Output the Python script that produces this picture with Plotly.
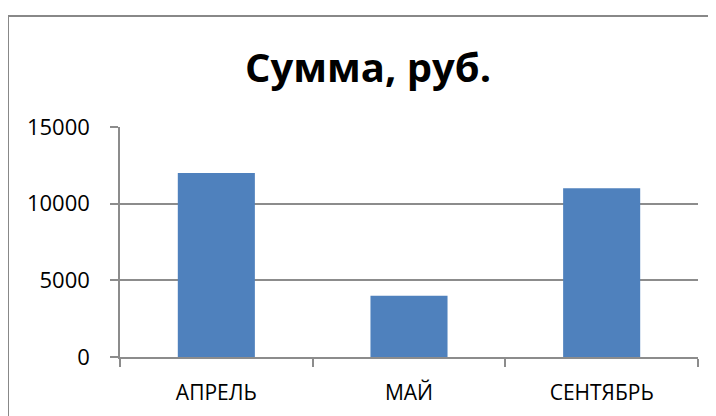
import plotly.graph_objects as go

categories = ["АПРЕЛЬ", "МАЙ", "СЕНТЯБРЬ"]
values = [12000, 4000, 11000]
y_ticks = [0, 5000, 10000, 15000]
y_tick_labels = ["0", "5000", "10000", "15000"]
title_text = "Сумма, руб."

# page body has an 8px margin, so figure coords = screen coords - 8
OFF = 8
W, H = 716, 416
L, T = 120 - OFF, 127 - OFF
R = W - (698 - OFF)
B = H - (357 - OFF)
pw, ph = W - L - R, H - T - B

def px_x(x):
    return (x - OFF - L) / pw

def px_y(y):
    return (H - B - (y - OFF)) / ph

fig = go.Figure(go.Bar(x=categories, y=values, marker=dict(color="#4F81BD", line=dict(width=0))))

grid = "#8c8c8c"
fig.update_layout(
    width=W, height=H,
    margin=dict(l=L, r=R, t=T, b=B),
    paper_bgcolor="white", plot_bgcolor="white",
    bargap=0.6,
    showlegend=False,
    font=dict(family="Open Sans", color="black"),
    title=dict(text="<b>" + title_text + "</b>", x=(368 - OFF) / W, xanchor="center", xref="container",
               y=1 - (68 - OFF) / H, yanchor="middle", yref="container",
               font=dict(size=40, family="Open Sans", color="black")),
    xaxis=dict(type="category", tickson="boundaries", ticks="outside", ticklen=8, tickwidth=1.5,
               tickcolor=grid, showline=True, linecolor=grid, linewidth=1.5, showgrid=False,
               tickfont=dict(size=21), ticklabelstandoff=16),
    yaxis=dict(range=[0, 15000], tickvals=y_ticks, ticktext=y_tick_labels, ticks="outside",
               ticklen=8, tickwidth=1.5,
               tickcolor=grid, showline=True, linecolor=grid, linewidth=1.5,
               showgrid=True, gridcolor=grid, gridwidth=1.5, zeroline=False,
               tickfont=dict(size=22), ticklabelstandoff=16),
    shapes=[dict(type="rect", xref="paper", yref="paper",
                 x0=px_x(8), x1=px_x(760), y0=px_y(460), y1=px_y(16),
                 line=dict(color="#888888", width=2), fillcolor="rgba(0,0,0,0)", layer="below")],
)

fig.write_html("out.html")
